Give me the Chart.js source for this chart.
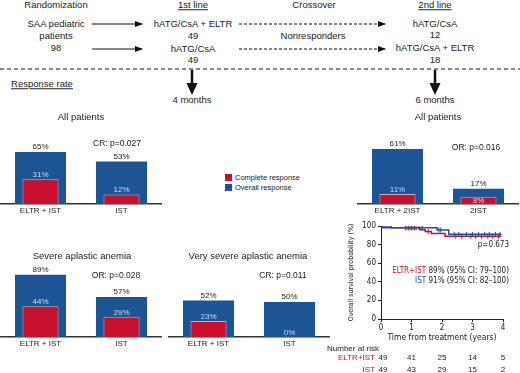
<!DOCTYPE html>
<html lang="en">
<head>
<meta charset="UTF-8">
<title>ELTR + IST response and survival</title>
<script src="https://cdn.jsdelivr.net/npm/chart.js@4.4.0/dist/chart.umd.min.js"></script>
<style>
  body { margin: 0; background: #fff; }
  #fig { position: relative; width: 520px; height: 373px; overflow: hidden; font-family: 'Liberation Sans', Arial, sans-serif; color: #222; }
  .t { position: absolute; transform: translate(-50%, -50%); white-space: nowrap; font-size: 9.5px; line-height: 1; }
  .u { text-decoration: underline; }
  .s { font-size: 8.5px; }
  .cv { position: absolute; }
  .lg { position: absolute; font-size: 7.5px; white-space: nowrap; line-height: 1; }
  .lg i { display: inline-block; width: 7px; height: 7px; vertical-align: -1px; margin-right: 3px; }
  .km { position: absolute; right: 11px; font-size: 8px; white-space: nowrap; line-height: 1; font-family: 'Liberation Sans Narrow', 'DejaVu Sans Condensed', 'Liberation Sans', sans-serif; }
</style>
</head>
<body>
<div id="fig">
  <svg width="520" height="110" style="position:absolute;left:0;top:0">
    <defs>
      <marker id="ah" markerUnits="userSpaceOnUse" markerWidth="8" markerHeight="6" refX="7" refY="3" orient="auto">
        <path d="M0,0 L8,3 L0,6 z" fill="#111"/>
      </marker>
    </defs>
    <line x1="92" y1="24" x2="142" y2="24" stroke="#111" stroke-width="1.1" marker-end="url(#ah)"/>
    <line x1="92" y1="49" x2="142" y2="49" stroke="#111" stroke-width="1.1" marker-end="url(#ah)"/>
    <line x1="239" y1="24" x2="385" y2="24" stroke="#111" stroke-width="1.1" stroke-dasharray="3,2" marker-end="url(#ah)"/>
    <line x1="239" y1="49" x2="385" y2="49" stroke="#111" stroke-width="1.1" stroke-dasharray="3,2" marker-end="url(#ah)"/>
    <line x1="0" y1="69" x2="520" y2="69" stroke="#111" stroke-width="1.2" stroke-dasharray="4,3"/>
    <line x1="192" y1="70" x2="192" y2="84" stroke="#111" stroke-width="2.5"/>
    <polygon points="186.5,83 197.5,83 192,95" fill="#111"/>
    <line x1="435" y1="70" x2="435" y2="84" stroke="#111" stroke-width="2.5"/>
    <polygon points="429.5,83 440.5,83 435,95" fill="#111"/>
  </svg>

  <div class="t" style="left:56px;top:5px">Randomization</div>
  <div class="t u" style="left:193px;top:5px">1st line</div>
  <div class="t" style="left:314px;top:5px">Crossover</div>
  <div class="t u" style="left:435px;top:5px">2nd line</div>

  <div class="t" style="left:56px;top:24px">SAA pediatric</div>
  <div class="t" style="left:56px;top:36px">patients</div>
  <div class="t" style="left:56px;top:48px">98</div>

  <div class="t" style="left:193px;top:24px">hATG/CsA + ELTR</div>
  <div class="t" style="left:193px;top:36px">49</div>
  <div class="t" style="left:193px;top:49px">hATG/CsA</div>
  <div class="t" style="left:193px;top:60px">49</div>

  <div class="t" style="left:313px;top:36px">Nonresponders</div>

  <div class="t" style="left:435px;top:24px">hATG/CsA</div>
  <div class="t" style="left:435px;top:35px">12</div>
  <div class="t" style="left:435px;top:48px">hATG/CsA + ELTR</div>
  <div class="t" style="left:435px;top:60px">18</div>

  <div class="t u" style="left:42px;top:84px">Response rate</div>
  <div class="t" style="left:192px;top:100px">4 months</div>
  <div class="t" style="left:435px;top:100px">6 months</div>

  <canvas id="c1" class="cv"></canvas>
  <canvas id="c2" class="cv"></canvas>
  <canvas id="c3" class="cv"></canvas>
  <canvas id="c4" class="cv"></canvas>
  <canvas id="km" class="cv" style="left:325px;top:218px" width="195" height="155"></canvas>

  <div class="t" style="left:81px;top:117px">All patients</div>
  <div class="t s" style="left:117px;top:143px">CR: p=0.027</div>
  <div class="t" style="left:438px;top:117px">All patients</div>
  <div class="t s" style="left:476px;top:147px">OR: p=0.016</div>
  <div class="t" style="left:82px;top:256px">Severe aplastic anemia</div>
  <div class="t s" style="left:116px;top:275px">OR: p=0.028</div>
  <div class="t" style="left:248px;top:256px">Very severe aplastic anemia</div>
  <div class="t s" style="left:283px;top:275px">CR: p=0.011</div>

  <div class="lg" style="left:225px;top:174px"><i style="background:#c8102e"></i>Complete response</div>
  <div class="lg" style="left:225px;top:184px"><i style="background:#1d5494"></i>Overall response</div>

  <div class="km" style="top:241px">p=0.673</div>
  <div class="km" style="top:267px"><span style="color:#c8102e">ELTR+IST</span> 89% (95% CI: 79–100)</div>
  <div class="km" style="top:277px"><span style="color:#1d5494">IST</span> 91% (95% CI: 82–100)</div>
</div>

<script>
// bar panels: response rates (%)
const firstArms = ['ELTR + IST', 'IST'];
const secondArms = ['ELTR + 2IST', '2IST'];
const allOverall = [65, 53];
const allComplete = [31, 12];
const secondOverall = [61, 17];
const secondComplete = [11, 8];
const saaOverall = [89, 57];
const saaComplete = [44, 29];
const vsaaOverall = [52, 50];
const vsaaComplete = [23, 0];

// Kaplan-Meier overall survival (%), years
const kmTicks = [0, 1, 2, 3, 4];
const eltrTimes = [0, 0.05, 1.28, 1.45, 1.65, 2.1, 3.95];
const eltrSurv = [100, 98, 96, 94, 92, 89, 89];
const istTimes = [0, 0.34, 1.84, 2.22, 3.95];
const istSurv = [100, 98, 95.7, 91, 91];
const eltrCensor = [0.85, 0.95, 1.05, 1.15, 1.55, 2.45, 2.65, 2.95, 3.1, 3.3, 3.5, 3.65, 3.85];
const istCensor = [0.8, 0.9, 1.0, 1.1, 1.25, 1.35, 1.9, 1.96, 2.4, 2.55, 2.8, 3.0, 3.2, 3.4, 3.55, 3.75, 3.9];
const riskEltr = [49, 41, 25, 14, 5];
const riskIst = [49, 43, 29, 15, 2];

const RED = '#c8102e';
const BLUE = '#1d5494';
const FONT = "'Liberation Sans', Arial, sans-serif";
const NARROW = "'Liberation Sans Narrow', 'DejaVu Sans Condensed', 'Liberation Sans', sans-serif";
Chart.defaults.font.family = FONT;
Chart.defaults.color = '#222';

const pctLabels = {
    id: 'pctLabels',
    afterDatasetsDraw(chart) {
        const ctx = chart.ctx;
        const red = chart.getDatasetMeta(0).data;
        const blue = chart.getDatasetMeta(1).data;
        const ds = chart.data.datasets;
        ctx.save();
        ctx.font = '8px ' + FONT;
        ctx.textAlign = 'center';
        blue.forEach(function(bar, i) {
            ctx.fillStyle = '#222';
            ctx.fillText(ds[1].data[i] + '%', bar.x, bar.y - 3);
            const r = red[i];
            if (r.y - bar.y < 11 && ds[0].data[i] > 0) {
                ctx.fillStyle = '#f6cdd5';
                ctx.fillText(ds[0].data[i] + '%', r.x, (r.y + r.base) / 2 + 3);
            } else {
                ctx.fillStyle = '#c9dcf0';
                ctx.fillText(ds[0].data[i] + '%', r.x, r.y - 2);
            }
        });
        ctx.restore();
    }
};

function barPanel(id, left, baseline, pxPerPct, arms, complete, overall) {
    const ymax = 110;
    const plotH = ymax * pxPerPct;
    const cv = document.getElementById(id);
    cv.width = 162;
    cv.height = Math.round(plotH + 16);
    cv.style.left = left + 'px';
    cv.style.top = Math.round(baseline - plotH) + 'px';
    new Chart(cv, {
        type: 'bar',
        data: {
            labels: arms,
            datasets: [{
                label: 'Complete response',
                data: complete,
                backgroundColor: RED,
                borderColor: '#d9a9b3',
                borderWidth: 1,
                barPercentage: 0.445,
                categoryPercentage: 1
            }, {
                label: 'Overall response',
                data: overall,
                backgroundColor: BLUE,
                borderWidth: 0,
                barPercentage: 0.63,
                categoryPercentage: 1
            }]
        },
        options: {
            responsive: false,
            animation: false,
            events: [],
            layout: { padding: 0 },
            plugins: { legend: { display: false }, tooltip: { enabled: false } },
            datasets: { bar: { grouped: false } },
            scales: {
                y: { display: false, min: 0, max: ymax },
                x: {
                    grid: { drawOnChartArea: false, drawTicks: false },
                    border: { display: true, color: '#333', width: 1.5 },
                    ticks: { font: { size: 8 }, color: '#222', padding: 2 },
                    afterFit: function(s) { s.height = 16; }
                }
            }
        },
        plugins: [pctLabels]
    });
}

barPanel('c1', 0, 204, 0.8, firstArms, allComplete, allOverall);
barPanel('c2', 357, 204, 0.9, secondArms, secondComplete, secondOverall);
barPanel('c3', 0, 337, 0.7, firstArms, saaComplete, saaOverall);
barPanel('c4', 168, 337, 0.7, firstArms, vsaaComplete, vsaaOverall);

function stepAt(times, surv, t) {
    let v = surv[0];
    for (let i = 0; i < times.length; i++) {
        if (times[i] <= t) v = surv[i];
    }
    return v;
}

const riskTable = {
    id: 'riskTable',
    afterDraw(chart) {
        const ctx = chart.ctx;
        const x = chart.scales.x;
        const b = chart.chartArea.bottom;
        const x0 = x.getPixelForValue(0);
        ctx.save();
        ctx.font = '8px ' + FONT;
        ctx.fillStyle = '#222';
        ctx.textAlign = 'left';
        ctx.fillText('Number at risk', 2, b + 32);
        ctx.textAlign = 'right';
        ctx.fillStyle = RED;
        ctx.fillText('ELTR+IST', x0 - 6, b + 41);
        ctx.fillStyle = BLUE;
        ctx.fillText('IST', x0 - 6, b + 53);
        ctx.fillStyle = '#222';
        ctx.textAlign = 'center';
        kmTicks.forEach(function(t, i) {
            const px = x.getPixelForValue(t) + (i === 0 ? 2 : 0);
            ctx.fillText(String(riskEltr[i]), px, b + 41);
            ctx.fillText(String(riskIst[i]), px, b + 53);
        });
        ctx.restore();
    }
};

new Chart(document.getElementById('km'), {
    type: 'line',
    data: {
        datasets: [{
            label: 'IST',
            data: istTimes.map((t, i) => ({ x: t, y: istSurv[i] })),
            borderColor: BLUE,
            borderWidth: 1.5,
            stepped: true,
            pointRadius: 0,
            fill: false
        }, {
            label: 'IST censored',
            data: istCensor.map(t => ({ x: t, y: stepAt(istTimes, istSurv, t) })),
            showLine: false,
            pointStyle: 'line',
            rotation: 90,
            pointRadius: 2.5,
            borderColor: BLUE,
            borderWidth: 1
        }, {
            label: 'ELTR+IST',
            data: eltrTimes.map((t, i) => ({ x: t, y: eltrSurv[i] })),
            borderColor: RED,
            borderWidth: 1.5,
            stepped: true,
            pointRadius: 0,
            fill: false
        }, {
            label: 'ELTR+IST censored',
            data: eltrCensor.map(t => ({ x: t, y: stepAt(eltrTimes, eltrSurv, t) })),
            showLine: false,
            pointStyle: 'line',
            rotation: 90,
            pointRadius: 2.5,
            borderColor: RED,
            borderWidth: 1
        }]
    },
    options: {
        responsive: false,
        animation: false,
        events: [],
        layout: { padding: { top: 8, right: 17, bottom: 30, left: 22 } },
        plugins: { legend: { display: false }, tooltip: { enabled: false } },
        scales: {
            x: {
                type: 'linear',
                min: 0,
                max: 4,
                grid: { drawOnChartArea: false, tickLength: 3, color: '#222' },
                border: { color: '#222', width: 1 },
                ticks: { stepSize: 1, font: { size: 8, family: NARROW }, color: '#222', padding: 1 },
                title: { display: true, text: 'Time from treatment (years)', font: { size: 8.5, family: NARROW }, color: '#222', padding: 0 },
                afterFit: function(s) { s.height = 24; }
            },
            y: {
                min: 0,
                max: 100,
                grid: { drawOnChartArea: false, tickLength: 3, color: '#222' },
                border: { color: '#222', width: 1 },
                ticks: { stepSize: 10, font: { size: 8, family: NARROW }, color: '#222', padding: 2 },
                title: { display: true, text: 'Overall survival probability (%)', font: { size: 7, family: NARROW }, color: '#222', padding: 0 },
                afterFit: function(s) { s.width = 34; }
            }
        }
    },
    plugins: [riskTable]
});
</script>
</body>
</html>
